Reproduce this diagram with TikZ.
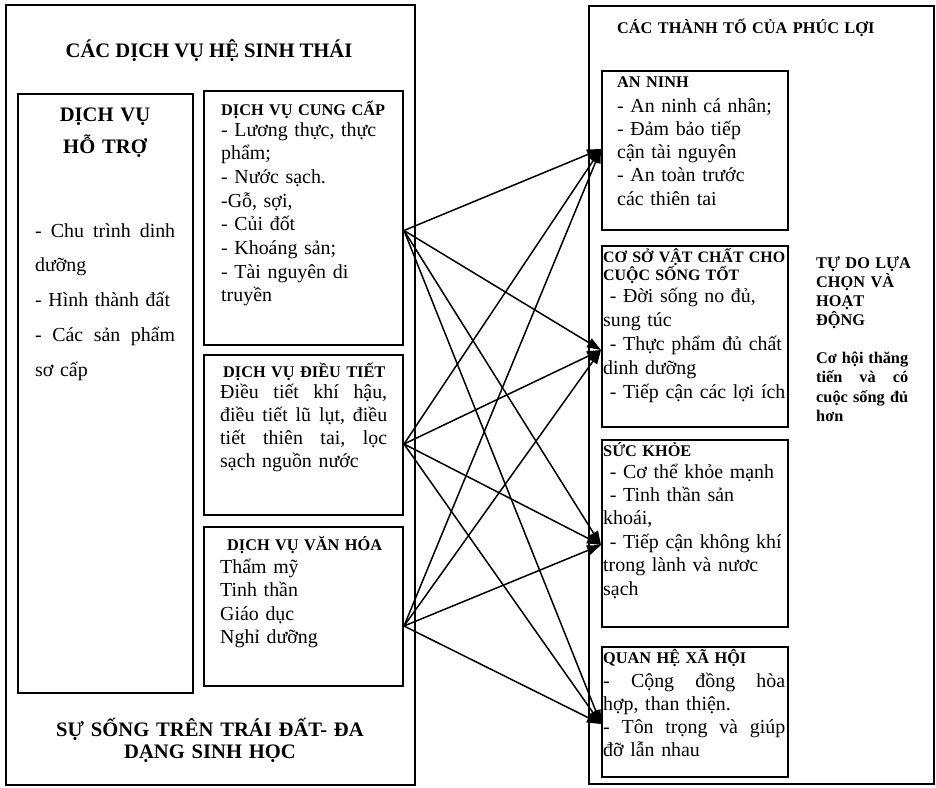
\documentclass[tikz,border=0pt]{standalone}
\usepackage{fontspec}
\setmainfont{Liberation Serif}
\usetikzlibrary{fit,arrows.meta,positioning}
\tikzset{
    panel/.style={draw, line width=2pt, inner sep=0pt},
    card/.style={draw, line width=2pt, inner sep=0pt},
    bigtitle/.style={font=\bfseries\fontsize{20.6}{22}\selectfont, inner sep=0pt, align=center},
    cardtitle/.style={font=\bfseries\fontsize{16.3}{18}\selectfont, inner sep=0pt, anchor=base west, text width=300pt, align=left},
    body/.style={font=\fontsize{19.9}{23.5}\selectfont, inner sep=0pt, anchor=base west, text width=#1},
    body/.default=200pt,
    link/.style={-{Triangle[length=14pt,width=10pt]}, line width=1.5pt},
}

\begin{document}
\begin{tikzpicture}[x=1pt,y=1pt,yscale=-1,xscale=1]
		\useasboundingbox (0,0) rectangle (936,787);
		
		% Panel: ecosystem services
		\node[panel, fit={(6,5) (415,785)}] (dichvu) {};
		\node[bigtitle, anchor=base] (dichvutitle) at (209,57) {CÁC DỊCH VỤ HỆ SINH THÁI};
		
		% Text Node
		\node[card, fit={(18,94) (193,693)}] (hotro) {};
		\node[bigtitle, anchor=base, text width=170pt, font=\bfseries\fontsize{20.6}{32}\selectfont] (hotrotitle) at (105,121) {DỊCH VỤ\\ HỖ TRỢ};
		\node[body=140pt, font=\fontsize{19.9}{34.8}\selectfont] (hotrotext) at (35,237) {-\hfill Chu\hfill trình\hfill dinh\\ dưỡng\\ - Hình thành đất\\ -\hfill Các\hfill sản\hfill phẩm\\ sơ cấp};
		
		% Text Node
		\node[card, fit={(204,91) (403,345)}] (cungcap) {};
		\node[cardtitle] (cungcaptitle) at (221,115) {DỊCH VỤ CUNG CẤP};
		\node[body, font=\fontsize{19.9}{23.7}\selectfont] (cungcaptext) at (221,136) {- Lương thực, thực\\ phẩm;\\ - Nước sạch.\\ -Gỗ, sợi,\\ - Củi đốt\\ - Khoáng sản;\\ - Tài nguyên di\\ truyền};
		
		% Text Node
		\node[card, fit={(204,355) (403,515)}] (dieutiet) {};
		\node[cardtitle] (dieutiettitle) at (223,377) {DỊCH VỤ ĐIỀU TIẾT};
		\node[body=167pt, font=\fontsize{19.9}{23.3}\selectfont] (dieutiettext) at (220,398) {Điều\hfill tiết\hfill khí\hfill hậu,\\ điều\hfill tiết\hfill lũ\hfill lụt,\hfill điều\\ tiết\hfill thiên\hfill tai,\hfill lọc\\ sạch nguồn nước};
		
		% Text Node
		\node[card, fit={(204,527) (403,686)}] (vanhoa) {};
		\node[cardtitle] (vanhoatitle) at (227,550) {DỊCH VỤ VĂN HÓA};
		\node[body] (vanhoatext) at (220,573) {Thẩm mỹ\\ Tinh thần\\ Giáo dục\\ Nghỉ dưỡng};
		
		% Text Node
		\node[bigtitle, anchor=base, text width=380pt] (susong) at (210,736) {SỰ SỐNG TRÊN TRÁI ĐẤT- ĐA\\ DẠNG SINH HỌC};
		
		% Panel: well-being
		\node[panel, fit={(589,6) (934,784)}] (phucloi) {};
		\node[cardtitle] (phuclotitle) at (617,33) {CÁC THÀNH TỐ CỦA PHÚC LỢI};
		
		% Text Node
		\node[card, fit={(602,71) (788,230)}] (anninh) {};
		\node[cardtitle] (anninhtitle) at (617,87) {AN NINH};
		\node[body, font=\fontsize{19.9}{23.3}\selectfont] (anninhtext) at (617,112) {- An ninh cá nhân;\\ - Đảm bảo tiếp\\ cận tài nguyên\\ - An toàn trước\\ các thiên tai};
		
		% Text Node
		\node[card, fit={(602,246) (788,427)}] (csvc) {};
		\node[cardtitle, font=\bfseries\fontsize{15.9}{18}\selectfont] (csvctitle) at (603,262) {CƠ SỞ VẬT CHẤT CHO\\ CUỘC SỐNG TỐT};
		\node[body, font=\fontsize{19.9}{24}\selectfont] (csvctext) at (603,302) {~- Đời sống no đủ,\\ sung túc\\ ~- Thực phẩm đủ chất\\ dinh dưỡng\\ ~- Tiếp cận các lợi ích};
		
		% Text Node
		\node[cardtitle, font=\bfseries\fontsize{16.3}{19}\selectfont] (tudo) at (816,268) {TỰ DO LỰA\\ CHỌN VÀ\\ HOẠT\\ ĐỘNG};
		\node[cardtitle, text width=92pt, font=\bfseries\fontsize{16.3}{19.5}\selectfont] (cohoi) at (816,363) {Cơ\hfill hội\hfill thăng\\ tiến\hfill và\hfill có\\ cuộc\hfill sống\hfill đủ\\ hơn};
		
		% Text Node
		\node[card, fit={(602,440) (788,627)}] (suckhoe) {};
		\node[cardtitle] (suckhoetitle) at (603,456) {SỨC KHỎE};
		\node[body, font=\fontsize{19.9}{23.4}\selectfont] (suckhoetext) at (603,478) {~- Cơ thể khỏe mạnh\\ ~- Tinh thần sản\\ khoái,\\ ~- Tiếp cận không khí\\ trong lành và nươc\\ sạch};
		
		% Text Node
		\node[card, fit={(602,647) (788,777)}] (quanhe) {};
		\node[cardtitle] (quanhetitle) at (603,663) {QUAN HỆ XÃ HỘI};
		\node[body=182pt, font=\fontsize{19.9}{23.3}\selectfont] (quanhetext) at (603,687) {-\hfill Cộng\hfill đồng\hfill hòa\\ hợp, than thiện.\\ -\hfill Tôn\hfill trọng\hfill và\hfill giúp\\ đỡ lẫn nhau};
		
		% Connection ends
		\coordinate (cungcapout) at ([yshift=12.5pt]cungcap.east);
		\coordinate (dieutietout) at ([yshift=9pt]dieutiet.east);
		\coordinate (vanhoaout) at ([yshift=19.5pt]vanhoa.east);
		\coordinate (anninhin) at ([yshift=-1.5pt]anninh.west);
		\coordinate (csvcin) at ([yshift=13.5pt]csvc.west);
		\coordinate (suckhoein) at ([yshift=11.5pt]suckhoe.west);
		\coordinate (quanhein) at ([yshift=12pt]quanhe.west);
		
		% Connection
		\draw[link] (cungcapout) -- (anninhin);
		\draw[link] (cungcapout) -- (csvcin);
		\draw[link] (cungcapout) -- (suckhoein);
		\draw[link] (cungcapout) -- (quanhein);
		
		% Connection
		\draw[link] (dieutietout) -- (anninhin);
		\draw[link] (dieutietout) -- (csvcin);
		\draw[link] (dieutietout) -- (suckhoein);
		\draw[link] (dieutietout) -- (quanhein);
		
		% Connection
		\draw[link] (vanhoaout) -- (anninhin);
		\draw[link] (vanhoaout) -- (csvcin);
		\draw[link] (vanhoaout) -- (suckhoein);
		\draw[link] (vanhoaout) -- (quanhein);
		
\end{tikzpicture}
\end{document}
